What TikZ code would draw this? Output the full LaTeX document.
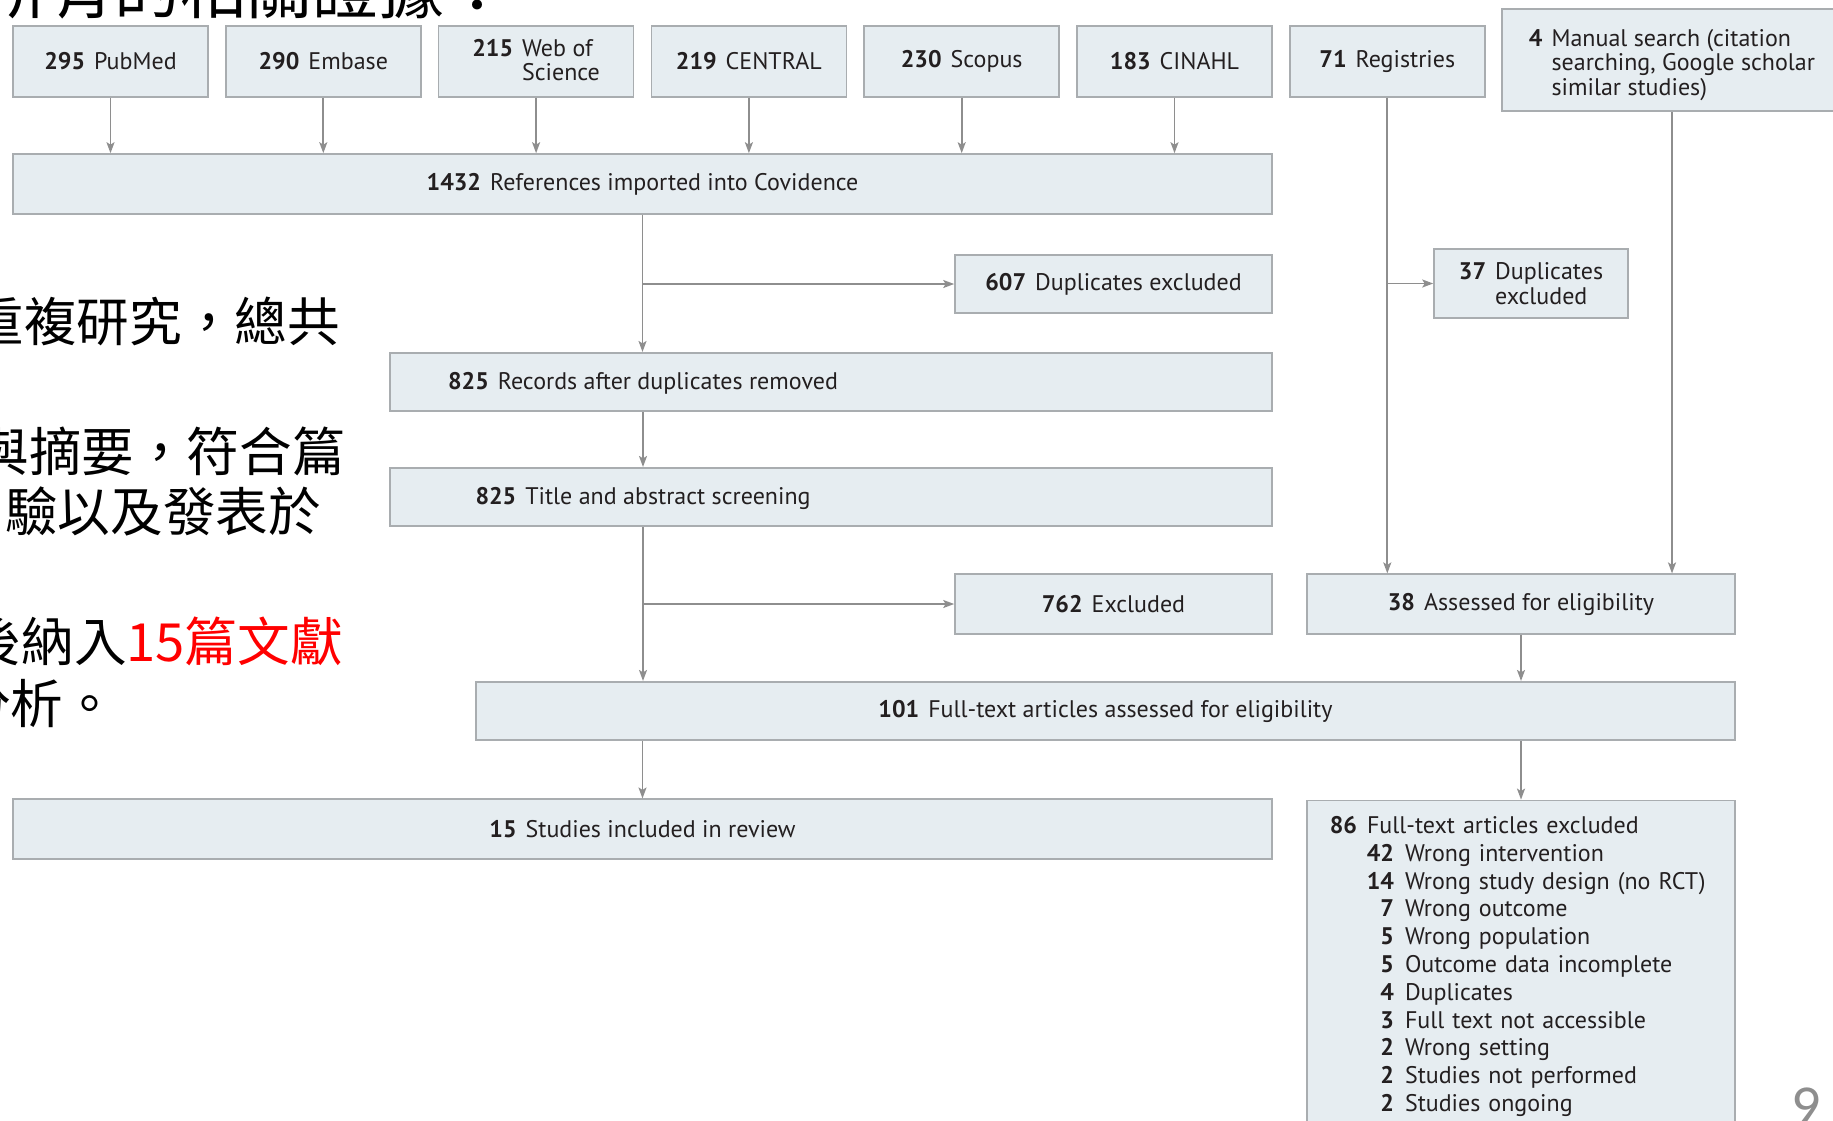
\documentclass[tikz,border=0pt]{standalone}
\usepackage{fontspec}
\setmainfont{PT Sans}
\newfontfamily\cjk{Noto Sans CJK TC}
\newfontfamily\pagenum{Carlito}
\usetikzlibrary{arrows.meta}
\definecolor{boxfill}{HTML}{E6EDF1}
\definecolor{boxline}{HTML}{A9ADB0}
\definecolor{arrowgray}{HTML}{8E8E8E}
\definecolor{txt}{HTML}{231F20}
\newcommand{\cnt}[2]{\textbf{#1}\hspace{9pt}#2}
\newcommand{\exrow}[2]{\hspace*{37pt}\makebox[26pt][r]{\textbf{#1}}\hspace{11pt}#2}

\begin{document}
\begin{tikzpicture}[x=1pt,y=1pt]
    \tikzstyle{every node}+=[inner sep=0pt, text=txt, font=\fontsize{24}{24.5}\selectfont]
    \tikzstyle{box}=[draw=boxline, line width=1.6pt, fill=boxfill]
    \tikzstyle{arr}=[draw=arrowgray, line width=1.8pt, -{Stealth[length=11pt,width=8pt,inset=2.5pt]}]
    \tikzstyle{zh}=[text=black, font=\cjk\fontsize{52.6}{52.6}\selectfont]
    \useasboundingbox (0,0) rectangle (1833,-1120);
    \clip (0,0) rectangle (1833,-1120);
    \node [anchor=base west, zh, font=\cjk\fontsize{66}{66}\selectfont] (title) at (-18,-13) {所有的相關證據：};
    \node [anchor=base east, zh] (line1) at (340,-341) {重複研究，總共};
    \node [anchor=base east, zh] (line2) at (345,-471) {與摘要，符合篇};
    \node [anchor=base east, zh] (line3) at (321,-531) {驗以及發表於};
    \node [anchor=base east, zh] (line4) at (343,-661) {後納入\textcolor{red}{15篇文獻}};
    \node [anchor=base west, zh] (line5) at (-42,-723) {分析。};
    \node [box, minimum width=195pt, minimum height=71pt] (pubmed) at (110.5,-61.4) {\cnt{295}{PubMed}};
    \node [box, minimum width=195pt, minimum height=71pt] (embase) at (323.3,-61.4) {\cnt{290}{Embase}};
    \node [box, minimum width=195pt, minimum height=71pt] (wos) at (536.1,-61.4) {\begin{tabular}{@{}l@{\hspace{9pt}}l@{}}\rule{0pt}{22pt}\textbf{215} & Web of\\ & Science\end{tabular}};
    \node [box, minimum width=195pt, minimum height=71pt] (central) at (748.9,-61.4) {\cnt{219}{CENTRAL}};
    \node [box, minimum width=195pt, minimum height=71pt] (scopus) at (961.7,-61.4) {\cnt{230}{Scopus}};
    \node [box, minimum width=195pt, minimum height=71pt] (cinahl) at (1174.5,-61.4) {\cnt{183}{CINAHL}};
    \node [box, minimum width=195pt, minimum height=71pt] (registries) at (1387.3,-61.4) {\cnt{71}{Registries}};
    \node [box, minimum width=340pt, minimum height=102pt] (manual) at (1672,-60) {\begin{tabular}{@{}l@{\hspace{9pt}}l@{}}\rule{0pt}{29pt}\textbf{4} & Manual search (citation\\ & searching, Google scholar\\ & similar studies)\end{tabular}};
    \node [box, minimum width=1259pt, minimum height=60pt] (imported) at (642.5,-184) {\cnt{1432}{References imported into Covidence}};
    \node [box, minimum width=317pt, minimum height=58pt] (dupl) at (1113.5,-284) {\cnt{607}{Duplicates excluded}};
    \node [box, minimum width=194pt, minimum height=69pt] (regdupl) at (1531,-283.5) {\begin{tabular}{@{}l@{\hspace{9pt}}l@{}}\rule{0pt}{24pt}\textbf{37} & Duplicates\\ & excluded\end{tabular}};
    \node [box, minimum width=882pt, minimum height=58.5pt] (records) at (831,-382) {};
    \node (recordstext) at (643,-383) {\cnt{825}{Records after duplicates removed}};
    \node [box, minimum width=882pt, minimum height=58.5pt] (screening) at (831,-497) {};
    \node (screeningtext) at (643,-498) {\cnt{825}{Title and abstract screening}};
    \node [box, minimum width=317pt, minimum height=59.6pt] (excl) at (1113.5,-604) {\cnt{762}{Excluded}};
    \node [box, minimum width=428pt, minimum height=59.6pt] (assessed) at (1521,-604) {\cnt{38}{Assessed for eligibility}};
    \node [box, minimum width=1259pt, minimum height=58.5pt] (fulltext) at (1105.5,-711) {\cnt{101}{Full-text articles assessed for eligibility}};
    \node [box, minimum width=1259pt, minimum height=59.5pt] (included) at (642.5,-829) {\cnt{15}{Studies included in review}};
    \node [box, anchor=north, text width=380pt, align=left, inner xsep=24pt, inner ysep=16pt, font=\fontsize{24}{27.8}\selectfont] (fullexcl) at (1521,-799.6) {\makebox[26pt][r]{\textbf{86}}\hspace{10pt}Full-text articles excluded\\
        \exrow{42}{Wrong intervention}\\
        \exrow{14}{Wrong study design (no RCT)}\\
        \exrow{7}{Wrong outcome}\\
        \exrow{5}{Wrong population}\\
        \exrow{5}{Outcome data incomplete}\\
        \exrow{4}{Duplicates}\\
        \exrow{3}{Full text not accessible}\\
        \exrow{2}{Wrong setting}\\
        \exrow{2}{Studies not performed}\\
        \exrow{2}{Studies ongoing}};
    \node [anchor=base west, text=arrowgray, font=\pagenum\fontsize{58}{58}\selectfont] (pagenum) at (1791,-1125) {9};
    \draw [arr] (pubmed.south) -- (pubmed.south |- imported.north);
    \draw [arr] (embase.south) -- (embase.south |- imported.north);
    \draw [arr] (wos.south) -- (wos.south |- imported.north);
    \draw [arr] (central.south) -- (central.south |- imported.north);
    \draw [arr] (scopus.south) -- (scopus.south |- imported.north);
    \draw [arr] (cinahl.south) -- (cinahl.south |- imported.north);
    \draw [arr] (imported.south) -- (imported.south |- records.north);
    \draw [arr] (imported.south |- dupl.west) -- (dupl.west);
    \draw [arr] (recordstext |- records.south) -- (recordstext |- screening.north);
    \draw [arr] (screeningtext |- screening.south) -- (screeningtext |- fulltext.north);
    \draw [arr] (screeningtext |- excl.west) -- (excl.west);
    \draw [arr] (registries.south) -- (registries.south |- assessed.north);
    \draw [arr] (registries.south |- regdupl.west) -- (regdupl.west);
    \draw [arr] (manual.south) -- (manual.south |- assessed.north);
    \draw [arr] (assessed.south) -- (assessed.south |- fulltext.north);
    \draw [arr] (included.north |- fulltext.south) -- (included.north);
    \draw [arr] (fullexcl.north |- fulltext.south) -- (fullexcl.north);
\end{tikzpicture}
\end{document}
